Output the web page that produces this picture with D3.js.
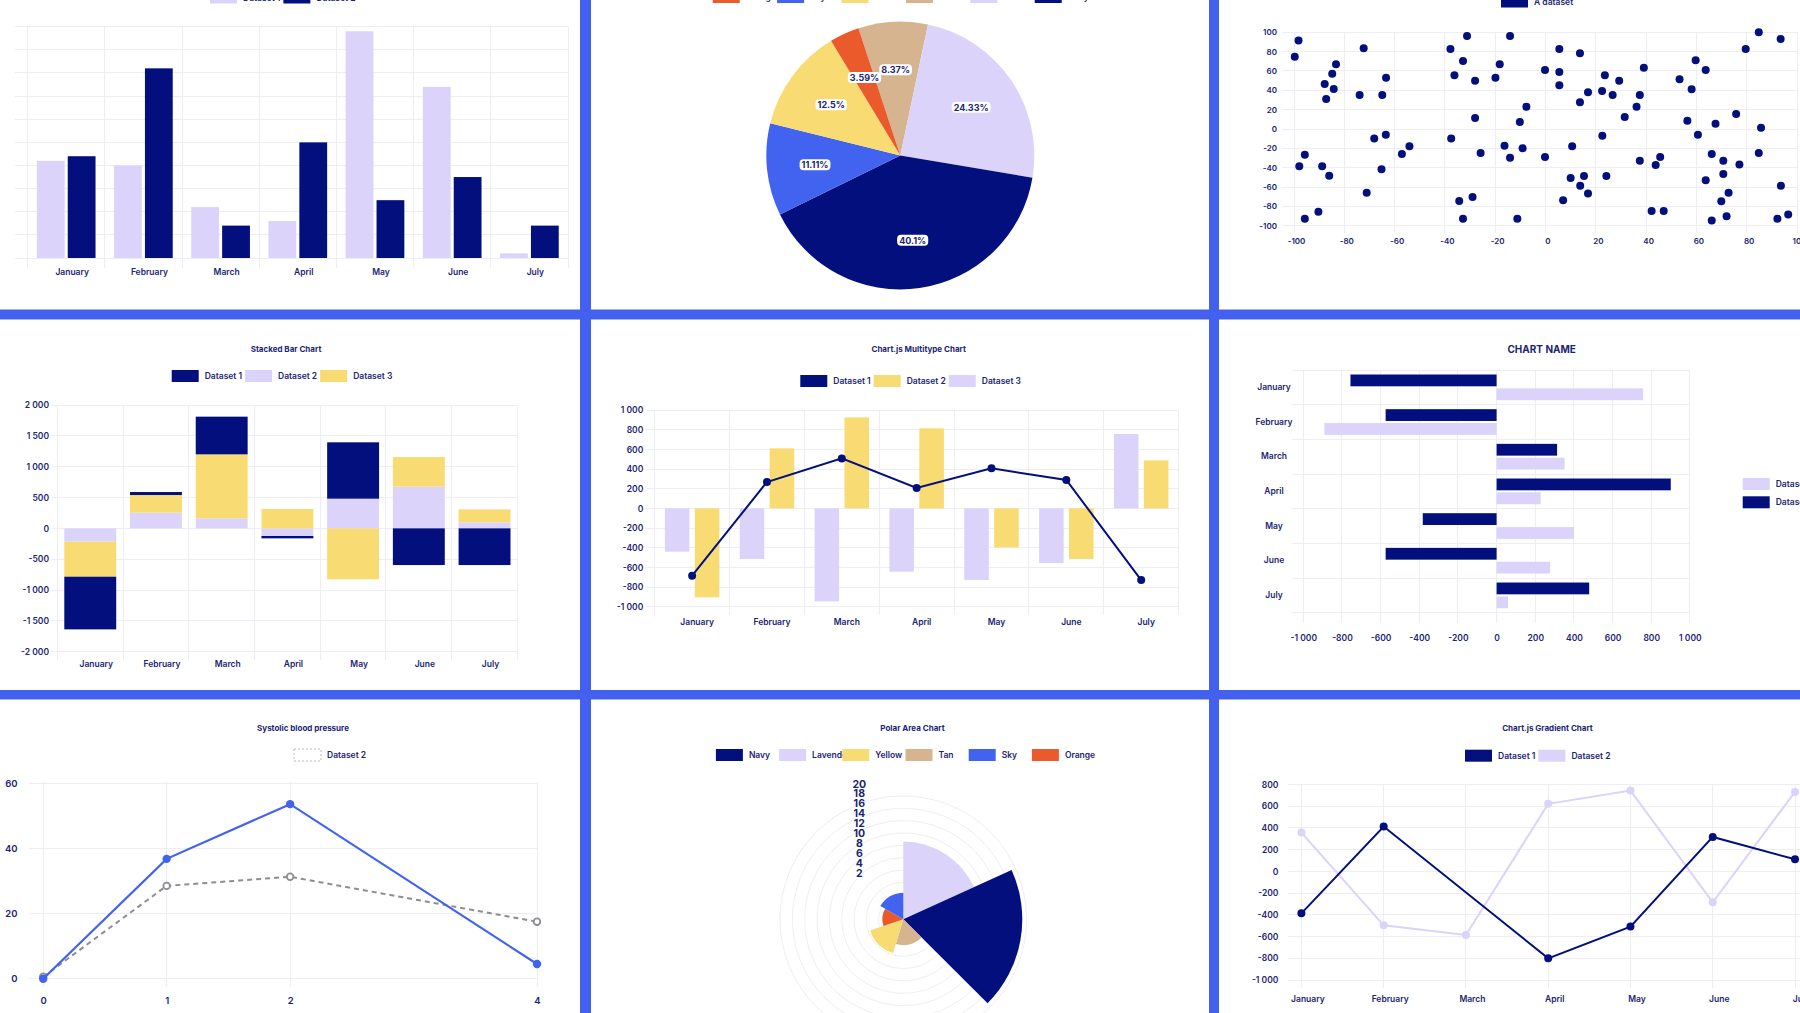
<!DOCTYPE html>
<html lang="en">
  <head>
    <meta charset="UTF-8" />
    <script src="https://cdn.jsdelivr.net/npm/d3@7"></script>
    <title>Chart dashboard</title>
    <style>
      body {
        margin: 0;
        background: #4361ee;
      }
      svg {
        display: block;
      }
      text {
        font-family: Inter, "Noto Sans", sans-serif;
        font-weight: 600;
        fill: #1b2574;
      }
    </style>
  </head>
  <body>
    <script>
      /*------------------------- data -------------------------*/
      const months = ["January", "February", "March", "April", "May", "June", "July"];

      // top left: grouped bars
      const groupedDs1 = [42, 40, 22, 16, 98, 74, 2];
      const groupedDs2 = [44, 82, 14, 50, 25, 35, 14];

      // top middle: pie (percent)
      const pieLabels = ["Orange", "Sky", "Yellow", "Tan", "Lavender", "Navy"];
      const pieValues = [3.59, 11.11, 12.5, 8.37, 24.33, 40.1];
      const pieOrder = ["Tan", "Lavender", "Navy", "Sky", "Yellow", "Orange"];

      // top right: scatter
      const scatterX = [-99.7, -98.2, -83.3, -84.8, -87.8, -84.2, -87.2, -72.3, -73.9, -63.4,
        -64.9, -68.1, -63.5, -57.1, -54.1, -65.2, -71.1, -95.7, -97.9, -88.8,
        -86.0, -90.3, -95.7, -37.8, -31.2, -32.8, -36.2, -28.0, -18.2, -19.9,
        -14.1, -7.6, -10.2, -28.0, -37.5, -25.8, -16.3, -14.1, -9.1, -34.3,
        -29.0, -32.8, -11.2, -0.2, 5.5, 5.5, 5.5, 13.7, 13.7, 16.9,
        23.6, 22.5, 26.7, 29.3, 39.1, 37.5, 36.2, 31.5, -0.2, 10.6,
        22.6, 10.0, 15.3, 13.8, 16.9, 7.0, 24.2, 37.5, 43.8, 45.6,
        42.2, 47.0, 53.3, 58.1, 59.7, 63.7, 56.4, 60.6, 67.6, 75.8,
        66.1, 70.7, 77.1, 70.7, 63.7, 72.8, 69.9, 72.0, 66.1, 79.6,
        84.8, 93.5, 85.7, 84.8, 93.6, 92.2, 96.5];
      const scatterY = [74.8, 91.4, 66.9, 57.2, 46.6, 41.4, 31.0, 83.4, 35.2, 53.1,
        35.2, -9.7, -5.9, -25.9, -17.9, -41.7, -65.9, -26.6, -38.6, -38.6,
        -48.3, -85.5, -92.8, 82.8, 96.2, 70.3, 55.5, 50.0, 66.9, 53.1,
        96.2, 23.1, 7.2, 11.4, -9.7, -24.8, -17.2, -29.7, -20.0, -74.5,
        -70.3, -92.8, -92.8, 61.0, 82.8, 59.0, 45.2, 78.3, 27.6, 37.9,
        55.5, 39.3, 35.2, 50.0, 63.4, 35.2, 23.1, 12.4, -29.0, -17.9,
        -6.9, -50.7, -48.6, -58.6, -66.6, -73.8, -48.6, -32.8, -37.2, -29.0,
        -84.8, -84.8, 51.4, 41.0, 71.0, 61.0, 8.6, -5.9, 5.5, 15.5,
        -25.9, -32.8, -36.6, -46.6, -53.1, -65.9, -74.8, -90.3, -94.5, 82.8,
        100, 93.1, 1.4, -24.8, -58.6, -92.8, -88.3];

      // middle left: stacked bars
      const stackedDs1 = [-854, 49, 611, -38, 914, -595, -595];
      const stackedDs2 = [-216, 254, 162, -124, 481, 676, 97];
      const stackedDs3 = [-568, 286, 1038, 314, -827, 481, 211];

      // middle: multitype
      const multiDs1 = [-685, 268, 508, 207, 407, 288, -729];
      const multiDs2 = [-905, 610, 925, 814, -397, -515, 488];
      const multiDs3 = [-441, -515, -946, -644, -729, -556, 756];

      // middle right: horizontal bars
      const hbarDs1 = [758, -891, 352, 228, 400, 277, 59];
      const hbarDs2 = [-756, -574, 313, 901, -382, -574, 479];

      // bottom left: systolic blood pressure
      const bpX = [0, 1, 2, 4];
      const bpDs1 = [0, 36.8, 53.6, 4.5];
      const bpDs2 = [0.6, 28.5, 31.3, 17.5];

      // bottom middle: polar area
      const polarLabels = ["Navy", "Lavender", "Yellow", "Tan", "Sky", "Orange"];
      const polarValues = [19.3, 12.6, 5.7, 4.2, 4.3, 3.4];
      const polarOrder = ["Lavender", "Navy", "Tan", "Yellow", "Orange", "Sky"];
      const polarSpans = [65.5, 69.4, 62, 54.6, 48.5, 60];
      const polarTicks = [2, 4, 6, 8, 10, 12, 14, 16, 18, 20];

      // bottom right: gradient lines
      const gradDs1 = [-387, 411, null, -801, -509, 316, 110];
      const gradDs2 = [356, -497, -586, 620, 742, -285, 730];

      /*------------------------ styling -----------------------*/
      const colors = {
        Navy: "#020f7c",
        Lavender: "#dbd3fa",
        Yellow: "#f8dc73",
        Tan: "#d5b48f",
        Sky: "#4262f0",
        Orange: "#eb5a2b",
      };
      const gridColor = "#ededf3";

      const panelCols = [-38, 591, 1219];
      const panelRows = [-61, 319.5, 699.5];
      const panelW = 618;
      const panelH = 370.5;

      const loc = d3.formatLocale({
        decimal: ".",
        thousands: " ",
        grouping: [3],
        currency: ["", ""],
        minus: "-",
      });
      const fmt = loc.format(",");

      /*------------------------ page --------------------------*/
      const svg = d3.select("body").append("svg").attr("width", 1800).attr("height", 1013);
      svg.append("rect").attr("width", 1800).attr("height", 1013).attr("fill", "#4361ee");
      panelRows.forEach((py) =>
        panelCols.forEach((px) =>
          svg.append("rect").attr("x", px).attr("y", py)
            .attr("width", panelW).attr("height", panelH).attr("fill", "#fff")
        )
      );

      /*------------------------ helpers -----------------------*/
      function hLines(ys, x1, x2) {
        svg.append("g").selectAll("line").data(ys).join("line")
          .attr("x1", x1).attr("x2", x2)
          .attr("y1", (d) => d).attr("y2", (d) => d)
          .attr("stroke", gridColor).attr("shape-rendering", "crispEdges");
      }
      function vLines(xs, y1, y2) {
        svg.append("g").selectAll("line").data(xs).join("line")
          .attr("x1", (d) => d).attr("x2", (d) => d)
          .attr("y1", y1).attr("y2", y2)
          .attr("stroke", gridColor).attr("shape-rendering", "crispEdges");
      }
      function leftLabels(scale, ticks, x, format, size) {
        const g = svg.append("g").attr("transform", `translate(${x},0)`)
          .call(d3.axisLeft(scale).tickValues(ticks).tickSize(0).tickPadding(0).tickFormat(format));
        g.select(".domain").remove();
        g.selectAll("text").style("font-size", size + "px");
        return g;
      }
      function bottomLabels(scale, ticks, y, format, size, dx) {
        const g = svg.append("g").attr("transform", `translate(${dx || 0},${y})`)
          .call(d3.axisBottom(scale).tickValues(ticks).tickSize(0).tickPadding(0).tickFormat(format));
        g.select(".domain").remove();
        g.selectAll("text").attr("dy", null)
          .attr("dominant-baseline", "central").style("font-size", size + "px");
        return g;
      }
      function title(text, x, y, size) {
        svg.append("text").attr("x", x).attr("y", y)
          .attr("text-anchor", "middle").attr("dominant-baseline", "central")
          .style("font-size", size + "px").style("font-weight", 700)
          .text(text);
      }
      // horizontal legend, item step from text width unless a fixed step is given
      function legend(items, x, y, step) {
        const g = svg.append("g");
        let cx = x;
        items.forEach((it) => {
          const r = g.append("rect").attr("x", cx).attr("y", y - 6)
            .attr("width", 27).attr("height", 12).attr("fill", it.color);
          if (it.dashed) {
            r.attr("fill", "#fff").attr("stroke", "#b9b9c0")
              .attr("stroke-width", 1).attr("stroke-dasharray", "2,2");
          }
          const t = g.append("text").attr("x", cx + 33).attr("y", y)
            .attr("dominant-baseline", "central").style("font-size", "8.5px")
            .text(it.label);
          cx += step ? step : 33 + t.node().getComputedTextLength() + 3;
        });
      }

      /*---------------- top left: grouped bars ----------------*/
      {
        const x = d3.scaleBand().domain(months).range([27.6, 568]);
        const sub = d3.scaleBand().domain([0, 1])
          .range([0.1 * x.bandwidth(), 0.9 * x.bandwidth()])
          .paddingInner(0.1).paddingOuter(0.05);
        const y = d3.scaleLinear().domain([0, 100]).range([258, 26.7]);

        hLines(y.ticks(10).map(y), 15, 568);
        vLines(months.map((m) => x(m)).concat(x.range()[1]), 26.7, 268);

        [groupedDs1, groupedDs2].forEach((vals, k) => {
          svg.append("g").selectAll("rect").data(vals).join("rect")
            .attr("x", (d, i) => x(months[i]) + sub(k))
            .attr("width", sub.bandwidth())
            .attr("y", (d) => y(d))
            .attr("height", (d) => y(0) - y(d))
            .attr("fill", k === 0 ? colors.Lavender : colors.Navy);
        });
        bottomLabels(x, months, 272, (d) => d, 8.5, 6);
        legend([
          { label: "Dataset 1", color: colors.Lavender },
          { label: "Dataset 2", color: colors.Navy },
        ], 210, -2.5);
      }

      /*--------------------- top middle: pie ------------------*/
      {
        const cx = 900.3, cy = 155.5, r = 134;
        const start = (-18.2 * Math.PI) / 180;
        const data = pieOrder.map((n) => ({ label: n, value: pieValues[pieLabels.indexOf(n)] }));
        const pie = d3.pie().sort(null).value((d) => d.value)
          .startAngle(start).endAngle(start + 2 * Math.PI);
        const arc = d3.arc().innerRadius(0).outerRadius(r);
        const labelArc = d3.arc().innerRadius(r * 0.64).outerRadius(r * 0.64);
        const g = svg.append("g").attr("transform", `translate(${cx},${cy})`);
        const arcs = pie(data);
        g.selectAll("path").data(arcs).join("path")
          .attr("d", arc).attr("fill", (d) => colors[d.data.label]);

        arcs.forEach((d) => {
          const [lx, ly] = labelArc.centroid(d);
          const t = g.append("text").attr("x", lx).attr("y", ly)
            .attr("text-anchor", "middle").attr("dominant-baseline", "central")
            .style("font-size", "9px").style("font-weight", 700)
            .text(d.data.value + "%");
          const w = t.node().getComputedTextLength();
          g.insert("rect", "text:last-of-type")
            .attr("x", lx - w / 2 - 2).attr("y", ly - 5.5)
            .attr("width", w + 4).attr("height", 11).attr("rx", 4)
            .attr("fill", "#fff");
        });
        legend(pieLabels.map((n) => ({ label: n, color: colors[n] })), 712.7, -3, 64.4);
      }

      /*-------------------- top right: scatter ----------------*/
      {
        const x = d3.scaleLinear().domain([-100, 100]).range([1294, 1797]);
        const y = d3.scaleLinear().domain([-100, 100]).range([225.7, 32.3]);
        const ticks = d3.range(-100, 101, 20);
        hLines(ticks.map(y), 1282, 1797);
        vLines(ticks.map(x), 32.3, 233);
        svg.append("g").selectAll("circle").data(scatterX).join("circle")
          .attr("cx", (d) => x(d))
          .attr("cy", (d, i) => y(scatterY[i]))
          .attr("r", 4)
          .attr("fill", colors.Navy);
        leftLabels(y, ticks, 1277, (d) => fmt(d), 8);
        bottomLabels(x, ticks, 240.7, (d) => fmt(d), 8, 2);
        legend([{ label: "A dataset", color: colors.Navy }], 1501, 1.5);
      }

      /*----------------- middle left: stacked -----------------*/
      {
        title("Stacked Bar Chart", 286, 349, 8);
        legend([
          { label: "Dataset 1", color: colors.Navy },
          { label: "Dataset 2", color: colors.Lavender },
          { label: "Dataset 3", color: colors.Yellow },
        ], 171.7, 376);

        const x = d3.scaleBand().domain(months).range([57.4, 517.4]);
        const y = d3.scaleLinear().domain([-2000, 2000]).range([651.7, 405]);
        const ticks = d3.range(-2000, 2001, 500);
        hLines(ticks.map(y), 52, 517.4);
        vLines(months.map((m) => x(m)).concat(x.range()[1]), 405, 660);

        const rows = months.map((m, i) => ({
          month: m, d1: stackedDs1[i], d2: stackedDs2[i], d3: stackedDs3[i],
        }));
        const series = d3.stack().keys(["d2", "d3", "d1"])
          .offset(d3.stackOffsetDiverging)(rows);
        const fill = { d1: colors.Navy, d2: colors.Lavender, d3: colors.Yellow };
        series.forEach((s) => {
          svg.append("g").selectAll("rect").data(s).join("rect")
            .attr("x", (d) => x(d.data.month) + x.bandwidth() * 0.105)
            .attr("width", x.bandwidth() * 0.79)
            .attr("y", (d) => y(Math.max(d[0], d[1])))
            .attr("height", (d) => Math.abs(y(d[0]) - y(d[1])))
            .attr("fill", fill[s.key]);
        });
        leftLabels(y, ticks, 49, (d) => fmt(d), 8.5);
        bottomLabels(x, months, 664, (d) => d, 8.5, 6);
      }

      /*------------------- middle: multitype ------------------*/
      {
        title("Chart.js Multitype Chart", 918.7, 349, 8);
        legend([
          { label: "Dataset 1", color: colors.Navy },
          { label: "Dataset 2", color: colors.Yellow },
          { label: "Dataset 3", color: colors.Lavender },
        ], 800.3, 381);

        const x = d3.scaleBand().domain(months).range([654.7, 1178.6]);
        const sub = d3.scaleBand().domain([0, 1])
          .range([0.1 * x.bandwidth(), 0.9 * x.bandwidth()])
          .paddingInner(0.18).paddingOuter(0.09);
        const y = d3.scaleLinear().domain([-1000, 1000]).range([606.7, 410]);
        const ticks = d3.range(-1000, 1001, 200);
        hLines(ticks.map(y), 646, 1178.6);
        vLines(months.map((m) => x(m)).concat(x.range()[1]), 410, 615);

        [multiDs3, multiDs2].forEach((vals, k) => {
          svg.append("g").selectAll("rect").data(vals).join("rect")
            .attr("x", (d, i) => x(months[i]) + sub(k))
            .attr("width", sub.bandwidth())
            .attr("y", (d) => y(Math.max(0, d)))
            .attr("height", (d) => Math.abs(y(d) - y(0)))
            .attr("fill", k === 0 ? colors.Lavender : colors.Yellow);
        });
        const cxm = (i) => x(months[i]) + x.bandwidth() / 2;
        svg.append("path").datum(multiDs1)
          .attr("d", d3.line().x((d, i) => cxm(i)).y((d) => y(d)))
          .attr("fill", "none").attr("stroke", colors.Navy).attr("stroke-width", 2);
        svg.append("g").selectAll("circle").data(multiDs1).join("circle")
          .attr("cx", (d, i) => cxm(i)).attr("cy", (d) => y(d))
          .attr("r", 4).attr("fill", colors.Navy);
        leftLabels(y, ticks, 643.3, (d) => fmt(d), 8.5);
        bottomLabels(x, months, 621.7, (d) => d, 8.5, 5);
      }

      /*------------- middle right: horizontal bars ------------*/
      {
        title("CHART NAME", 1541.7, 349, 10);
        const y = d3.scaleBand().domain(months).range([370, 612.7]);
        const sub = d3.scaleBand().domain([0, 1])
          .range([0.1 * y.bandwidth(), 0.9 * y.bandwidth()])
          .paddingInner(0.15).paddingOuter(0.075);
        const x = d3.scaleLinear().domain([-1000, 1000]).range([1303.3, 1689.9]);
        const ticks = d3.range(-1000, 1001, 200);
        hLines(months.map((m) => y(m)).concat(y.range()[1]), 1291.8, 1689.9);
        vLines(ticks.map(x), 370, 623);

        [hbarDs2, hbarDs1].forEach((vals, k) => {
          svg.append("g").selectAll("rect").data(vals).join("rect")
            .attr("y", (d, i) => y(months[i]) + sub(k))
            .attr("height", sub.bandwidth())
            .attr("x", (d) => x(Math.min(0, d)))
            .attr("width", (d) => Math.abs(x(d) - x(0)))
            .attr("fill", k === 0 ? colors.Navy : colors.Lavender);
        });
        const gl = leftLabels(y, months, 1274, (d) => d, 8.5);
        gl.selectAll("text").attr("text-anchor", "middle");
        bottomLabels(x, ticks, 638.3, (d) => fmt(d), 8.5, 0);

        // vertical legend at the right edge
        const items = [
          { label: "Dataset 1", color: colors.Lavender },
          { label: "Dataset 2", color: colors.Navy },
        ];
        items.forEach((it, i) => legend([it], 1742.7, 484 + i * 18.3));
      }

      /*------------- bottom left: systolic pressure -----------*/
      {
        title("Systolic blood pressure", 303, 728.3, 8);
        legend([{ label: "Dataset 2", color: "#fff", dashed: true }], 294, 755);

        const x = d3.scaleLinear().domain([0, 4]).range([43.2, 537]);
        const y = d3.scaleLinear().domain([0, 60]).range([978.7, 783.3]);
        const yTicks = [0, 20, 40, 60];
        hLines(yTicks.map(y), 28.7, 537.7);
        vLines(bpX.map(x), 781.7, 987);

        svg.append("path").datum(bpDs2)
          .attr("d", d3.line().x((d, i) => x(bpX[i])).y((d) => y(d)))
          .attr("fill", "none").attr("stroke", "#8d8d92").attr("stroke-width", 2)
          .attr("stroke-dasharray", "5,4");
        svg.append("g").selectAll("circle").data(bpDs2).join("circle")
          .attr("cx", (d, i) => x(bpX[i])).attr("cy", (d) => y(d))
          .attr("r", 3.3).attr("fill", "#fff").attr("stroke", "#8d8d92").attr("stroke-width", 1.8);

        svg.append("path").datum(bpDs1)
          .attr("d", d3.line().x((d, i) => x(bpX[i])).y((d) => y(d)))
          .attr("fill", "none").attr("stroke", colors.Sky).attr("stroke-width", 2.2);
        svg.append("g").selectAll("circle").data(bpDs1).join("circle")
          .attr("cx", (d, i) => x(bpX[i])).attr("cy", (d) => y(d))
          .attr("r", 4.2).attr("fill", colors.Sky);

        leftLabels(y, yTicks, 17.5, (d) => fmt(d), 9.5);
        bottomLabels(x, bpX, 1000, (d) => fmt(d), 9.5, 0);
      }

      /*---------------- bottom middle: polar area -------------*/
      {
        title("Polar Area Chart", 912.5, 728.3, 8);
        legend(polarLabels.map((n) => ({ label: n, color: colors[n] })), 715.9, 755, 63.2);

        const cx = 903.3, cy = 919.3;
        const r = d3.scaleLinear().domain([0, 20]).range([0, 123.3]);
        const g = svg.append("g").attr("transform", `translate(${cx},${cy})`);
        g.selectAll("circle").data(polarTicks).join("circle")
          .attr("r", (d) => r(d)).attr("fill", "none")
          .attr("stroke", "#efeef1").attr("stroke-width", 1);

        let a0 = 0;
        polarOrder.forEach((name, i) => {
          const a1 = a0 + (polarSpans[i] * Math.PI) / 180;
          const v = polarValues[polarLabels.indexOf(name)];
          g.append("path")
            .attr("d", d3.arc().innerRadius(0).outerRadius(r(v)).startAngle(a0).endAngle(a1)())
            .attr("fill", colors[name]);
          a0 = a1;
        });

        // the tick labels sit in a tight column above the centre
        const tickY = d3.scaleLinear().domain([2, 20]).range([873.3, 784]);
        svg.append("g").selectAll("text").data(polarTicks).join("text")
          .attr("x", 859.3).attr("y", (d) => tickY(d))
          .attr("text-anchor", "middle").attr("dominant-baseline", "central")
          .style("font-size", "10.5px").style("font-weight", 700)
          .text((d) => d);
      }

      /*---------------- bottom right: gradient lines ----------*/
      {
        title("Chart.js Gradient Chart", 1547.5, 728.3, 8);
        legend([
          { label: "Dataset 1", color: colors.Navy },
          { label: "Dataset 2", color: colors.Lavender },
        ], 1465, 755.7);

        const x = d3.scalePoint().domain(months).range([1301.4, 1795]);
        const y = d3.scaleLinear().domain([-1000, 800]).range([980, 784.3]);
        const ticks = d3.range(-1000, 801, 200);
        hLines(ticks.map(y), 1288, 1800);
        vLines(months.map(x), 784.3, 988);

        [[gradDs2, colors.Lavender], [gradDs1, colors.Navy]].forEach(([vals, c]) => {
          const pts = vals.map((v, i) => [x(months[i]), v]).filter((p) => p[1] !== null);
          svg.append("path").datum(pts)
            .attr("d", d3.line().x((p) => p[0]).y((p) => y(p[1])))
            .attr("fill", "none").attr("stroke", c).attr("stroke-width", 2);
          svg.append("g").selectAll("circle").data(pts).join("circle")
            .attr("cx", (p) => p[0]).attr("cy", (p) => y(p[1]))
            .attr("r", 4).attr("fill", c);
        });
        leftLabels(y, ticks, 1278.4, (d) => fmt(d), 8.5);
        bottomLabels(x, months, 999.3, (d) => d, 8.5, 6);
      }
    </script>
  </body>
</html>
